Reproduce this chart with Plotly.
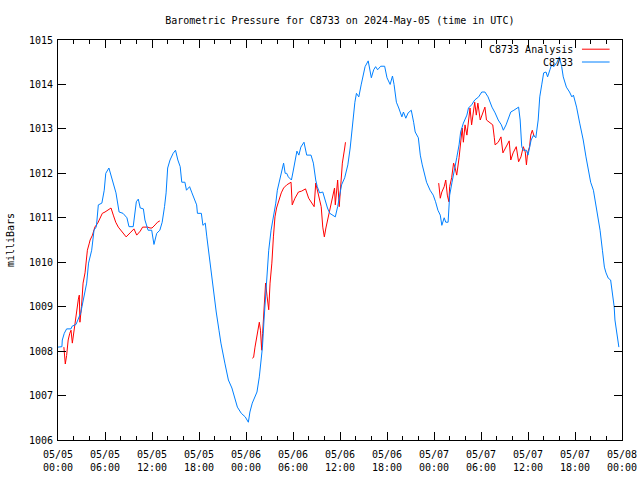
import pandas as pd
import plotly.graph_objects as go

START = "2024-05-05 00:00"

# C8733 observed station pressure (hours after start, mb)
obs_hours = [0.0, 0.5, 0.55, 0.8, 1.1, 1.66, 1.8, 2.3, 2.9, 3.2, 3.66, 3.9, 4.3, 4.6, 4.9,
             5.15, 5.6, 5.9, 6.1, 6.5, 6.85, 7.2, 7.4, 7.8, 8.3, 8.8, 9.06, 9.6, 9.8, 10.0,
             10.25, 10.5, 10.9, 11.1, 11.5, 11.96, 12.25, 12.6, 13.0, 13.3, 13.6, 13.8, 14.0,
             14.3, 14.7, 15.0, 15.3, 15.6, 15.8, 16.2, 16.4, 16.8, 17.1, 17.4, 17.7, 17.8,
             18.3, 18.5, 18.8, 19.0, 19.3, 19.5, 19.8, 20.1, 20.2, 20.55, 20.8, 21.3, 21.75,
             22.2, 22.5, 22.9, 23.4, 23.9, 24.3, 24.5, 24.8, 25.15, 25.4, 25.7, 25.9, 26.1,
             26.3, 26.5, 26.8, 26.9, 27.2, 27.5, 27.8, 28.0, 28.3, 28.6, 28.8, 29.0, 29.2,
             29.4, 29.8, 30.0, 30.3, 30.5, 30.75, 31.0, 31.4, 31.75, 32.3, 32.6, 32.9, 33.1,
             33.4, 33.8, 34.1, 34.4, 34.7, 35.4, 35.7, 36.0, 36.2, 36.6, 37.0, 37.3, 37.5,
             37.7, 37.9, 38.1, 38.4, 38.7, 39.0, 39.2, 39.6, 40.0, 40.3, 40.55, 40.8, 41.2,
             41.7, 42.0, 42.4, 42.7, 42.9, 43.2, 43.5, 43.9, 44.1, 44.4, 44.7, 45.1, 45.4,
             45.6, 46.0, 46.25, 46.5, 46.8, 47.05, 47.5, 47.9, 48.2, 48.5, 48.8, 49.0, 49.3,
             49.5, 49.8, 50.0, 50.3, 50.6, 50.9, 51.2, 51.4, 51.75, 52.2, 52.4, 52.8, 53.2,
             53.7, 54.1, 54.5, 54.9, 55.4, 55.8, 56.2, 56.6, 56.85, 57.2, 57.5, 57.8, 58.2,
             58.55, 58.8, 59.0, 59.2, 59.4, 59.8, 60.0, 60.4, 60.7, 61.0, 61.3, 61.5, 61.75,
             62.0, 62.3, 62.5, 62.8, 63.0, 63.3, 63.7, 64.0, 64.3, 64.5, 64.9, 65.3, 65.6,
             65.8, 66.0, 66.2, 66.6, 67.05, 67.4, 67.7, 68.0, 68.35, 68.7, 69.0, 69.2, 69.5,
             69.75, 69.96, 70.25, 70.55, 70.8, 71.0, 71.1, 71.3, 71.45, 71.6]
obs_mb = [1008.09, 1008.1, 1008.25, 1008.4, 1008.5, 1008.5, 1008.56, 1008.6, 1008.86, 1009.15,
          1009.53, 1009.98, 1010.27, 1010.72, 1010.8, 1011.29, 1011.33, 1011.62, 1012.0, 1012.12,
          1011.92, 1011.7, 1011.56, 1011.13, 1011.1, 1011.0, 1010.8, 1010.8, 1011.1, 1011.36,
          1011.42, 1011.22, 1011.2, 1010.95, 1010.72, 1010.72, 1010.4, 1010.65, 1010.72, 1010.9,
          1011.25, 1011.56, 1012.12, 1012.3, 1012.45, 1012.52, 1012.3, 1012.15, 1011.8, 1011.8,
          1011.62, 1011.7, 1011.56, 1011.44, 1011.29, 1011.1, 1011.1, 1010.83, 1010.88, 1010.57,
          1010.12, 1009.83, 1009.44, 1009.0, 1008.88, 1008.47, 1008.18, 1007.73, 1007.35, 1007.17,
          1006.97, 1006.74, 1006.6, 1006.52, 1006.4, 1006.63, 1006.83, 1007.0, 1007.08, 1007.42,
          1007.73, 1008.09, 1008.7, 1009.22, 1009.76, 1010.27, 1010.72, 1011.0, 1011.33, 1011.62,
          1011.85, 1012.07, 1012.23, 1012.0, 1012.0, 1011.92, 1011.85, 1012.03, 1012.3, 1012.5,
          1012.41, 1012.59, 1012.7, 1012.41, 1012.41, 1012.23, 1011.85, 1011.7, 1011.56, 1011.58,
          1011.4, 1011.22, 1011.1, 1011.02, 1011.25, 1011.56, 1011.74, 1011.9, 1012.19, 1012.57,
          1012.93, 1013.24, 1013.6, 1013.8, 1013.72, 1013.99, 1014.21, 1014.4, 1014.53, 1014.15,
          1014.33, 1014.4, 1014.33, 1014.41, 1014.41, 1014.15, 1014.0, 1014.19, 1014.0, 1013.6,
          1013.47, 1013.27, 1013.38, 1013.24, 1013.36, 1013.42, 1013.15, 1012.93, 1012.8, 1012.41,
          1012.19, 1012.0, 1011.8, 1011.62, 1011.51, 1011.36, 1011.17, 1011.06, 1010.83, 1011.0,
          1010.9, 1010.9, 1011.51, 1011.8, 1012.12, 1012.35, 1012.64, 1012.93, 1013.13, 1013.31,
          1013.47, 1013.54, 1013.65, 1013.72, 1013.83, 1013.83, 1013.72, 1013.49, 1013.36, 1013.2,
          1013.09, 1012.97, 1013.09, 1013.24, 1013.38, 1013.42, 1013.47, 1013.49, 1013.2, 1012.6,
          1012.52, 1012.52, 1012.41, 1012.75, 1012.86, 1012.8, 1013.2, 1013.72, 1013.99, 1014.26,
          1014.28, 1014.17, 1014.33, 1014.44, 1014.4, 1014.5, 1014.62, 1014.4, 1014.17, 1013.94,
          1013.83, 1013.72, 1013.76, 1013.65, 1013.49, 1013.13, 1012.75, 1012.37, 1012.07, 1011.8,
          1011.62, 1011.25, 1010.95, 1010.72, 1010.27, 1009.89, 1009.76, 1009.64, 1009.6, 1009.3,
          1009.0, 1008.7, 1008.47, 1008.25, 1008.09]

# C8733 Analysis, three separate runs (hours after start, mb)
ana1_hours = [0.75, 0.93, 1.1, 1.3, 1.5, 1.66, 1.83, 2.04, 2.2, 2.4, 2.6, 2.72, 2.8, 3.0, 3.2,
              3.45, 3.57, 3.75, 4.0, 4.1, 4.4, 4.7, 5.07, 5.36, 5.66, 6.0, 6.35, 6.77, 7.06,
              7.37, 7.7, 8.1, 8.7, 9.2, 9.7, 10.05, 10.5, 10.8, 11.45, 11.75, 12.0, 12.4, 12.7, 13.0]
ana1_mb = [1008.09, 1007.71, 1007.9, 1008.25, 1008.4, 1008.47, 1008.18, 1008.47, 1008.7, 1009.0,
           1009.17, 1009.26, 1008.65, 1009.0, 1009.53, 1009.76, 1009.98, 1010.27, 1010.43, 1010.5,
           1010.61, 1010.79, 1010.88, 1011.0, 1011.1, 1011.13, 1011.17, 1011.22, 1011.06, 1010.9,
           1010.79, 1010.7, 1010.57, 1010.66, 1010.75, 1010.61, 1010.7, 1010.79, 1010.79, 1010.77,
           1010.77, 1010.84, 1010.9, 1010.93]
ana2_hours = [24.8, 24.97, 25.15, 25.4, 25.55, 25.7, 25.85, 26.0, 26.12, 26.3, 26.5, 26.7, 26.9,
              27.07, 27.3, 27.5, 27.7, 27.9, 28.2, 28.5, 28.8, 29.2, 29.75, 29.9, 30.25, 30.7,
              31.1, 31.6, 32.0, 32.3, 32.7, 32.9, 33.2, 33.6, 33.8, 34.0, 34.2, 34.5, 34.85,
              35.1, 35.3, 35.4, 35.6, 35.7, 35.9, 36.1, 36.3, 36.6, 36.7]
ana2_mb = [1007.84, 1007.86, 1008.09, 1008.32, 1008.54, 1008.65, 1008.47, 1008.02, 1008.4, 1008.88,
           1009.53, 1009.22, 1008.93, 1009.53, 1009.98, 1010.57, 1011.02, 1011.22, 1011.4, 1011.56,
           1011.67, 1011.74, 1011.8, 1011.29, 1011.44, 1011.58, 1011.6, 1011.65, 1011.44, 1011.36,
           1011.25, 1011.78, 1011.56, 1011.25, 1010.79, 1010.57, 1010.77, 1011.02, 1011.25, 1011.51,
           1011.67, 1011.29, 1011.67, 1011.85, 1011.25, 1011.7, 1012.23, 1012.57, 1012.7]
ana3_hours = [48.6, 48.8, 49.0, 49.3, 49.5, 49.7, 49.9, 50.0, 50.25, 50.5, 50.7, 50.9, 51.2,
              51.45, 51.6, 51.75, 51.96, 52.2, 52.4, 52.6, 52.8, 53.0, 53.2, 53.4, 53.6, 53.9,
              54.2, 54.5, 54.7, 55.5, 55.7, 55.8, 56.2, 56.55, 56.8, 57.2, 57.6, 57.8, 58.1,
              58.5, 58.8, 59.1, 59.4, 59.65, 59.8, 59.95, 60.2, 60.35, 60.55, 60.8]
ana3_mb = [1011.78, 1011.44, 1011.58, 1011.7, 1011.85, 1011.51, 1011.36, 1011.7, 1011.9, 1012.23,
           1012.12, 1011.96, 1012.35, 1012.7, 1013.02, 1012.7, 1013.09, 1012.86, 1013.24, 1013.47,
           1013.09, 1013.38, 1013.6, 1013.31, 1013.58, 1013.2, 1013.36, 1013.49, 1013.2, 1013.09,
           1012.8, 1012.64, 1012.7, 1012.82, 1012.46, 1012.6, 1012.73, 1012.3, 1012.46, 1012.6,
           1012.26, 1012.37, 1012.6, 1012.48, 1012.19, 1012.46, 1012.6, 1012.86, 1012.97, 1012.82]

tick_hours = [0, 6, 12, 18, 24, 30, 36, 42, 48, 54, 60, 66, 72]
y_ticks = [1006, 1007, 1008, 1009, 1010, 1011, 1012, 1013, 1014, 1015]

t0 = pd.Timestamp(START)


def to_time(hours):
    return [t0 + pd.Timedelta(hours=h) for h in hours]


ana_x, ana_y = [], []
for hs, vs in [(ana1_hours, ana1_mb), (ana2_hours, ana2_mb), (ana3_hours, ana3_mb)]:
    if ana_x:
        ana_x.append(None)
        ana_y.append(None)
    ana_x += to_time(hs)
    ana_y += vs

tick_vals = to_time(tick_hours)
tick_text = [t.strftime("%m/%d<br>%H:%M") for t in tick_vals]

RED = "#ff0000"
BLUE = "#0080ff"
FONT = "DejaVu Sans Mono"
FS = 10

fig = go.Figure()
fig.add_trace(go.Scatter(x=ana_x, y=ana_y, mode="lines", name="C8733 Analysis",
                         line=dict(color=RED, width=1), connectgaps=False, showlegend=False))
fig.add_trace(go.Scatter(x=to_time(obs_hours), y=obs_mb, mode="lines", name="C8733",
                         line=dict(color=BLUE, width=1), showlegend=False))

# legend drawn gnuplot style (text, then line sample)
for name, col, yp in [("C8733 Analysis", RED, 0.977), ("C8733", BLUE, 0.945)]:
    fig.add_annotation(xref="paper", yref="paper", x=0.917, y=yp, text=name,
                       showarrow=False, xanchor="right", yanchor="middle",
                       font=dict(family=FONT, size=FS, color="black"))
    fig.add_shape(type="line", xref="paper", yref="paper", x0=0.929, x1=0.978,
                  y0=yp, y1=yp, line=dict(color=col, width=1))

fig.update_layout(
    width=640, height=480,
    margin=dict(l=58, r=18, t=40, b=40, autoexpand=False),
    paper_bgcolor="white", plot_bgcolor="white",
    font=dict(family=FONT, size=FS, color="black"),
    title=dict(text="Barometric Pressure for C8733 on 2024-May-05 (time in UTC)",
               x=0.531, xanchor="center", y=1 - 20 / 480, yanchor="middle", automargin=False,
               font=dict(family=FONT, size=FS, color="black")),
)
fig.update_xaxes(
    type="date", range=[tick_vals[0], tick_vals[-1]], automargin=False,
    tickmode="array", tickvals=tick_vals, ticktext=tick_text, ticklabelstandoff=5,
    ticklabeloverflow="allow",
    ticks="inside", ticklen=8, tickcolor="black", tickwidth=1,
    minor=dict(dtick=2 * 3600 * 1000, ticks="inside", ticklen=4, tickcolor="black", showgrid=False),
    showline=True, linecolor="black", linewidth=1, mirror="ticks",
    showgrid=False, zeroline=False, tickfont=dict(family=FONT, size=FS),
)
fig.update_yaxes(
    range=[1006, 1015], automargin=False, tickmode="array", tickvals=y_ticks,
    ticktext=[str(v) for v in y_ticks], ticklabelstandoff=2,
    ticks="inside", ticklen=8, tickcolor="black", tickwidth=1,
    showline=True, linecolor="black", linewidth=1, mirror="ticks",
    showgrid=False, zeroline=False, tickfont=dict(family=FONT, size=FS),
    title=dict(text="milliBars", font=dict(family=FONT, size=FS), standoff=12),
)

# place the 640x480 figure at the window's top-left corner (no default page margin)
fig.write_html("out.html", config={"displayModeBar": False},
               post_script="document.body.style.margin='0';document.body.style.overflow='hidden';")
